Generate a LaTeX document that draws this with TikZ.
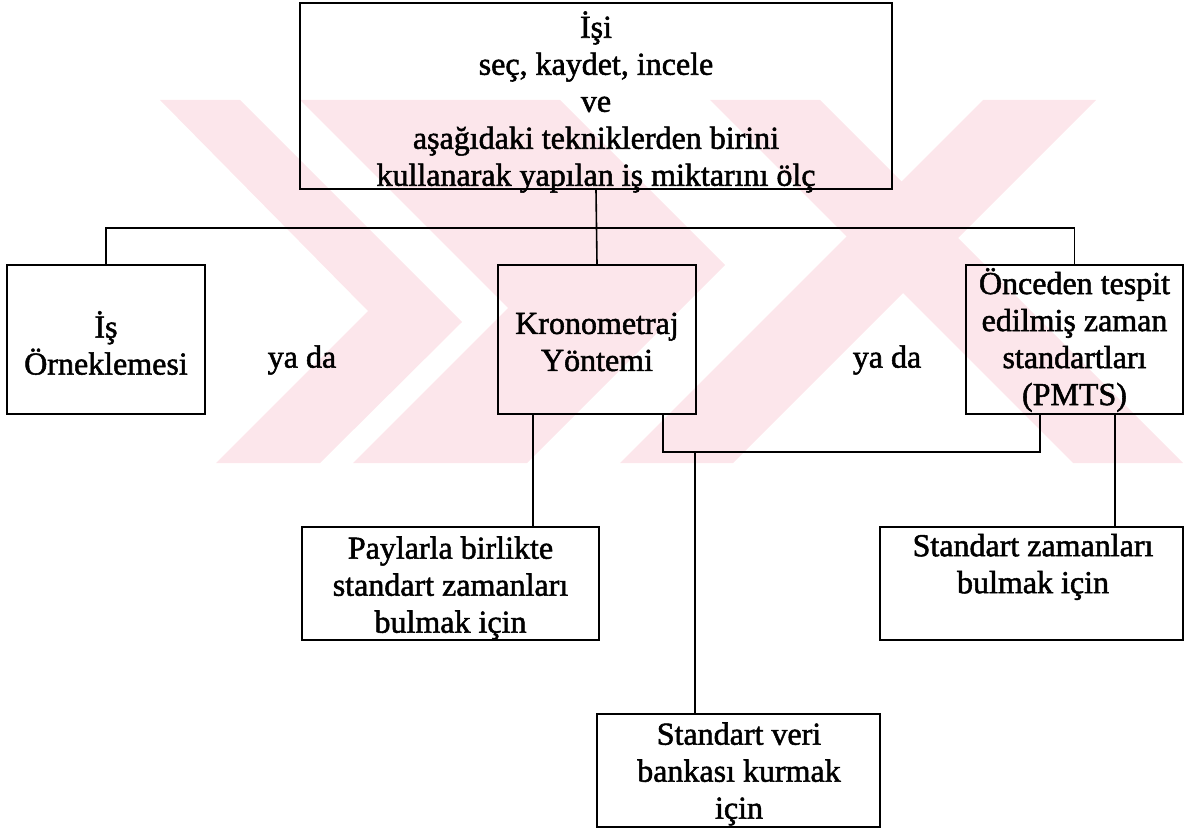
\documentclass[tikz,border=0pt]{standalone}
\usepackage{fontspec}
\setmainfont{Liberation Serif}[FakeBold=1.6]
\definecolor{wm}{RGB}{252,230,235}
\begin{document}
\begin{tikzpicture}[x=1pt,y=-1pt,
  box/.style={draw, line width=2.2pt, inner sep=0pt},
  txt/.style={inner sep=0pt, align=center, font=\fontsize{32}{37}\selectfont},
  conn/.style={line width=1.6pt},
  thin/.style={line width=1.1pt},
  wmark/.style={fill=wm, draw=none}]
\useasboundingbox (0,0) rectangle (1185,829);
% watermark
\fill[wmark] (160,100) -- (240,100) -- (462,322) -- (320,463) -- (216,463) -- (368,311) -- cycle;
\fill[wmark] (300,100) -- (560,100) -- (725,265) -- (527,463) -- (353,463) -- (508,308) -- cycle;
\fill[wmark] (620,463) -- (733,463) -- (1096,100) -- (983,100) -- cycle;
\fill[wmark] (710,100) -- (820,100) -- (1183,463) -- (1073,463) -- cycle;
% boxes
\node[box, minimum width=592pt, minimum height=186pt] (top) at (596,96) {};
\node[txt] (topt) at (596,102)
  {İşi\\seç, kaydet, incele\\ve\\aşağıdaki tekniklerden birini\\kullanarak yapılan iş miktarını ölç};
\node[box, minimum width=198pt, minimum height=149pt] (is) at (106,339.5) {};
\node[txt] (ist) at (106,343) {İş\\Örneklemesi};
\node[box, minimum width=198pt, minimum height=149pt] (kron) at (597,339.5) {};
\node[txt] (kront) at (597,342) {Kronometraj\\Yöntemi};
\node[box, minimum width=217pt, minimum height=149pt] (pmts) at (1074.5,339.5) {};
\node[txt] (pmtst) at (1074.5,340) {Önceden tespit\\edilmiş zaman\\standartları\\(PMTS)};
\node[box, minimum width=297pt, minimum height=113pt] (pay) at (450.5,583.5) {};
\node[txt] (payt) at (450.5,588) {Paylarla birlikte\\standart zamanları\\bulmak için};
\node[box, minimum width=303pt, minimum height=113pt] (stdz) at (1031.5,583.5) {};
\node[txt] (stdzt) at (1033,567) {Standart zamanları\\bulmak için};
\node[box, minimum width=283pt, minimum height=113pt] (veri) at (738.5,770.5) {};
\node[txt] (verit) at (739,774) {Standart veri\\bankası kurmak\\için};
\node[txt] (ya1) at (302,360) {ya da};
\node[txt] (ya2) at (887,360) {ya da};
% connectors
\coordinate (bus) at (596,228);
\coordinate (c1) at (533,0);
\coordinate (c2) at (663,452);
\coordinate (c3) at (1040,0);
\coordinate (c4) at (695,452);
\coordinate (c5) at (1115,0);
\draw[conn] (top.south) -- (kron.north);
\draw[conn] (is.north) |- (bus) -| (pmts.north);
\draw[thin] (kron.south -| c1) -- (pay.north -| c1);
\draw[conn] (kron.south -| c2) -- (c2) -| (pmts.south -| c3);
\draw[thin] (c4) -- (veri.north -| c4);
\draw[thin] (pmts.south -| c5) -- (stdz.north -| c5);
\end{tikzpicture}
\end{document}
